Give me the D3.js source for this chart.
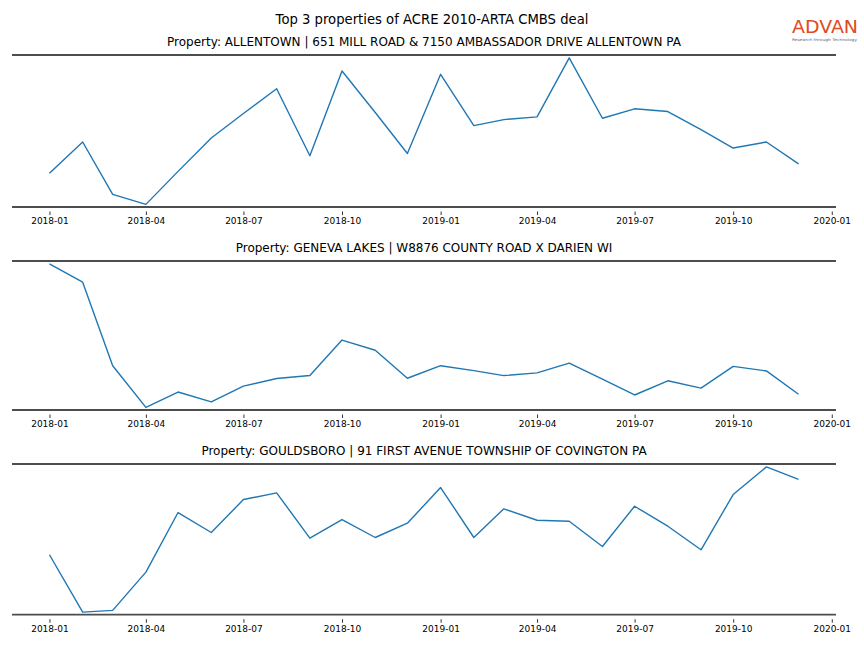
<!DOCTYPE html>
<html>
<head>
<meta charset="utf-8">
<script src="https://cdn.jsdelivr.net/npm/d3@7"></script>
<style>
  html, body { margin: 0; padding: 0; background: #fff; }
  svg { display: block; }
</style>
</head>
<body>
<svg id="chart" width="864" height="648"></svg>
<script>
// ---- data ----
const chartTitle = "Top 3 properties of ACRE 2010-ARTA CMBS deal";
const months = ["2018-01","2018-02","2018-03","2018-04","2018-05","2018-06","2018-07","2018-08","2018-09","2018-10","2018-11","2018-12",
                "2019-01","2019-02","2019-03","2019-04","2019-05","2019-06","2019-07","2019-08","2019-09","2019-10","2019-11","2019-12"];
const propertyNames = [
  "Property: ALLENTOWN | 651 MILL ROAD & 7150 AMBASSADOR DRIVE ALLENTOWN PA",
  "Property: GENEVA LAKES | W8876 COUNTY ROAD X DARIEN WI",
  "Property: GOULDSBORO | 91 FIRST AVENUE TOWNSHIP OF COVINGTON PA"
];
const allentown = [337, 647, 127, 27, 355, 687, 930, 1177, 510, 1353, 940, 533, 1320, 810, 870, 897, 1483, 883, 977, 950, 770, 587, 647, 430];
const genevaLakes = [1473, 1287, 440, 17, 173, 73, 233, 310, 340, 700, 597, 313, 440, 390, 340, 367, 467, 303, 143, 287, 213, 433, 387, 150];
const gouldsboro = [594, 20, 37, 420, 1017, 817, 1147, 1214, 760, 947, 767, 910, 1267, 767, 1054, 940, 930, 677, 1080, 880, 644, 1197, 1474, 1350];
const tickLabels = ["2018-01","2018-04","2018-07","2018-10","2019-01","2019-04","2019-07","2019-10","2020-01"];

// ---- drawing ----
const svg = d3.select("#chart");
const parse = d3.timeParse("%Y-%m");
const dates = months.map(parse);
const tickDates = tickLabels.map(parse);
const series = [allentown, genevaLakes, gouldsboro];

const left = 12, right = 836;
const panels = [
  { top: 55, bottom: 207 },
  { top: 261, bottom: 410 },
  { top: 464, bottom: 614.7 }
];

const ext = d3.extent(dates);
const span = ext[1] - ext[0];
const x = d3.scaleTime()
  .domain([new Date(+ext[0] - span * 0.05), new Date(+ext[1] + span * 0.05)])
  .range([left, right]);

svg.append("text")
  .attr("x", 432).attr("y", 24)
  .attr("text-anchor", "middle")
  .attr("font-family", "DejaVu Sans")
  .attr("font-size", 13.2)
  .attr("fill", "#000")
  .text(chartTitle);

// logo
svg.append("text")
  .attr("x", 792).attr("y", 33)
  .attr("font-family", "DejaVu Sans")
  .attr("font-size", 18)
  .attr("textLength", 66)
  .attr("lengthAdjust", "spacingAndGlyphs")
  .attr("fill", "#e04a22")
  .text("ADVAN");
svg.append("text")
  .attr("x", 792).attr("y", 40.5)
  .attr("font-family", "DejaVu Sans")
  .attr("font-size", 3.6)
  .attr("textLength", 65)
  .attr("lengthAdjust", "spacingAndGlyphs")
  .attr("fill", "#666")
  .text("Research through Technology");

panels.forEach((p, i) => {
  const vals = series[i];
  const [mn, mx] = d3.extent(vals);
  const r = mx - mn;
  const y = d3.scaleLinear()
    .domain([mn - r * 0.018, mx + r * 0.02])
    .range([p.bottom, p.top]);

  const g = svg.append("g");

  g.append("text")
    .attr("x", 424).attr("y", p.top - 9.5)
    .attr("text-anchor", "middle")
    .attr("font-family", "DejaVu Sans")
    .attr("font-size", 12)
    .attr("fill", "#000")
    .text(propertyNames[i]);

  // line
  const line = d3.line()
    .x((d, j) => x(dates[j]))
    .y(d => y(d));
  g.append("path")
    .datum(vals)
    .attr("fill", "none")
    .attr("stroke", "#1f77b4")
    .attr("stroke-width", 1.4)
    .attr("stroke-linejoin", "round")
    .attr("d", line);

  // spines
  [p.top, p.bottom].forEach(yy => {
    g.append("line")
      .attr("x1", left).attr("x2", right)
      .attr("y1", yy).attr("y2", yy)
      .attr("stroke", "#4d4d4d")
      .attr("stroke-width", 1.8);
  });

  // x axis
  const axis = d3.axisBottom(x)
    .tickValues(tickDates)
    .tickFormat(d3.timeFormat("%Y-%m"))
    .tickSize(3.5)
    .tickPadding(3);
  const ag = g.append("g")
    .attr("transform", `translate(0,${p.bottom + 4.5})`)
    .call(axis);
  ag.select(".domain").remove();
  ag.selectAll(".tick line").attr("stroke", "#000").attr("stroke-width", 0.8);
  ag.selectAll(".tick text")
    .attr("font-family", "DejaVu Sans")
    .attr("font-size", 9)
    .attr("fill", "#000");
});
</script>
</body>
</html>
